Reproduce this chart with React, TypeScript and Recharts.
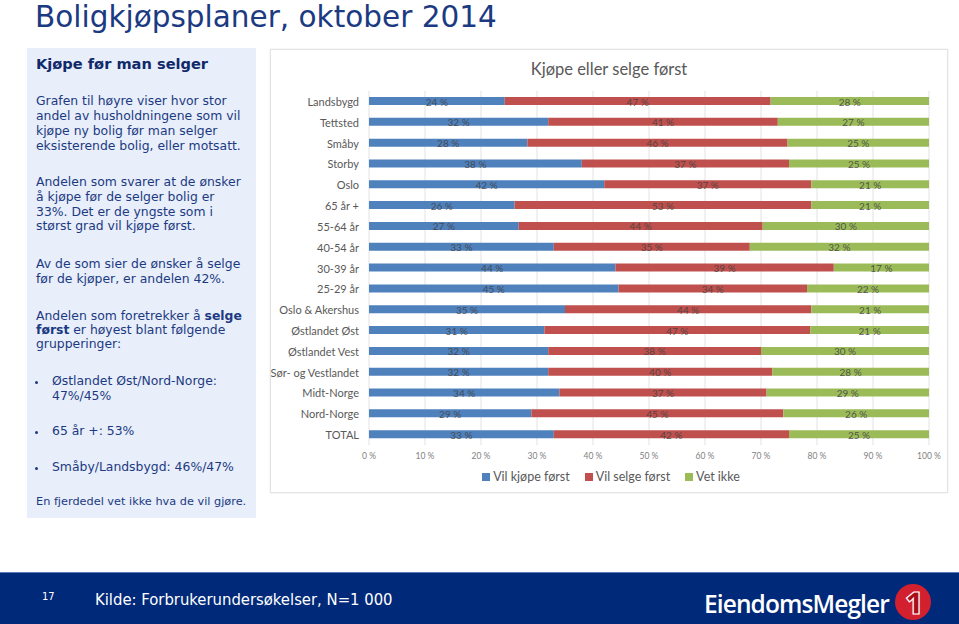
import { Bar, BarChart, CartesianGrid, LabelList, XAxis, YAxis } from 'recharts';

const categories = [
  'Landsbygd', 'Tettsted', 'Småby', 'Storby', 'Oslo', '65 år +', '55-64 år', '40-54 år',
  '30-39 år', '25-29 år', 'Oslo & Akershus', 'Østlandet Øst', 'Østlandet Vest',
  'Sør- og Vestlandet', 'Midt-Norge', 'Nord-Norge', 'TOTAL',
];
const kjopeForst = [24, 32, 28, 38, 42, 26, 27, 33, 44, 45, 35, 31, 32, 32, 34, 29, 33];
const selgeForst = [47, 41, 46, 37, 37, 53, 44, 35, 39, 34, 44, 47, 38, 40, 37, 45, 42];
const vetIkke = [28, 27, 25, 25, 21, 21, 30, 32, 17, 22, 21, 21, 30, 28, 29, 26, 25];
const xTicks = [0, 0.1, 0.2, 0.3, 0.4, 0.5, 0.6, 0.7, 0.8, 0.9, 1];

const seriesNames = ['Vil kjøpe først', 'Vil selge først', 'Vet ikke'];
const seriesColors = ['#4F81BD', '#C0504D', '#9BBB59'];

const data = categories.map((name, i) => ({
  name,
  kjope: kjopeForst[i],
  selge: selgeForst[i],
  vet: vetIkke[i],
}));

const navy = '#1b3a82';
const textFont = '"DejaVu Sans", Verdana, sans-serif';
const chartFont = 'Lato, "Open Sans", sans-serif';

const makeLabel = (values: number[]) => (props: any) => {
  const { x, y, width, height, index } = props;
  return (
    <text
      x={Number(x) + Number(width) / 2}
      y={Number(y) + Number(height) / 2 + 0.5}
      textAnchor="middle"
      dominantBaseline="central"
      fontSize={10}
      fontFamily={chartFont}
      fill="#404040"
      fillOpacity={0.85}
    >
      {values[index]} %
    </text>
  );
};

// plain svg text so long category names stay on one line
const CategoryTick = (props: any) => {
  const { x, y, payload } = props;
  return (
    <text x={x} y={y} textAnchor="end" dominantBaseline="central" fontSize={11} fontFamily={chartFont} fill="#595959">
      {payload.value}
    </text>
  );
};

const paraLines: { t: React.ReactNode; y: number; x?: number; size?: number }[] = [
  { t: 'Grafen til høyre viser hvor stor', y: 102 },
  { t: 'andel av husholdningene som vil', y: 117 },
  { t: 'kjøpe ny bolig før man selger', y: 132 },
  { t: 'eksisterende bolig, eller motsatt.', y: 147 },
  { t: 'Andelen som svarer at de ønsker', y: 183 },
  { t: 'å kjøpe før de selger bolig er', y: 198 },
  { t: '33%. Det er de yngste som i', y: 213 },
  { t: 'størst grad vil kjøpe først.', y: 227 },
  { t: 'Av de som sier de ønsker å selge', y: 265 },
  { t: 'før de kjøper, er andelen 42%.', y: 280 },
  { t: <>Andelen som foretrekker å <b>selge</b></>, y: 317 },
  { t: <><b>først</b> er høyest blant følgende</>, y: 331 },
  { t: 'grupperinger:', y: 345 },
  { t: 'Østlandet Øst/Nord-Norge:', y: 382, x: 52 },
  { t: '47%/45%', y: 397, x: 52 },
  { t: '65 år +: 53%', y: 432, x: 52 },
  { t: 'Småby/Landsbygd: 46%/47%', y: 468, x: 52 },
  { t: 'En fjerdedel vet ikke hva de vil gjøre.', y: 503, size: 11.3 },
];
const bulletYs = [382, 432, 468];

export default function App() {
  return (
    <div style={{ position: 'absolute', left: 0, top: 0, width: 959, height: 624, background: '#fff', overflow: 'hidden' }}>
      <div style={{ position: 'absolute', left: 35, top: 0, fontFamily: textFont, fontSize: 29.5, lineHeight: '34px', color: navy, whiteSpace: 'nowrap' }}>
        Boligkjøpsplaner, oktober 2014
      </div>

      {/* left panel */}
      <div style={{ position: 'absolute', left: 27, top: 48, width: 229, height: 470, background: '#E8EEFA' }} />
      <div style={{ position: 'absolute', left: 36, top: 55, fontFamily: textFont, fontWeight: 'bold', fontSize: 14.6, lineHeight: '18px', color: '#10296a', whiteSpace: 'nowrap' }}>
        Kjøpe før man selger
      </div>
      {paraLines.map((l, i) => (
        <div key={i} style={{ position: 'absolute', left: l.x ?? 36, top: l.y - 6.9, fontFamily: textFont, fontSize: l.size ?? 12.4, lineHeight: '12px', color: navy, whiteSpace: 'nowrap' }}>
          {l.t}
        </div>
      ))}
      {bulletYs.map((y) => (
        <div key={y} style={{ position: 'absolute', left: 35, top: y - 1.5, width: 3, height: 3, background: navy, borderRadius: 2 }} />
      ))}

      {/* chart box */}
      <div style={{ position: 'absolute', left: 270, top: 49, width: 676, height: 442, border: '1px solid #e3e3e3', boxShadow: '0 0 2px #e6e6e6', background: '#fff' }} />
      <div style={{ position: 'absolute', left: 270, top: 58, width: 678, textAlign: 'center', fontFamily: chartFont, fontSize: 16.5, lineHeight: '22px', color: '#595959' }}>
        Kjøpe eller selge først
      </div>
      <div style={{ position: 'absolute', left: 270, top: 49 }}>
        <BarChart
          width={678}
          height={444}
          data={data}
          layout="vertical"
          stackOffset="expand"
          barSize={8}
          margin={{ top: 42, right: 19, left: 0, bottom: 18 }}
        >
          <CartesianGrid horizontal={false} stroke="#e2e2e2" />
          <XAxis
            type="number"
            domain={[0, 1]}
            ticks={xTicks}
            tickFormatter={(v) => `${Math.round(v * 100)} %`}
            tick={{ fontSize: 8.5, fill: '#7f7f7f', fontFamily: chartFont }}
            axisLine={false}
            tickLine={false}
            height={30}
          />
          <YAxis
            type="category"
            dataKey="name"
            width={99}
            tick={<CategoryTick />}
            axisLine={false}
            tickLine={false}
            tickMargin={4}
            interval={0}
          />
          <Bar dataKey="kjope" stackId="a" fill={seriesColors[0]} isAnimationActive={false}>
            <LabelList dataKey="kjope" content={makeLabel(kjopeForst)} />
          </Bar>
          <Bar dataKey="selge" stackId="a" fill={seriesColors[1]} isAnimationActive={false}>
            <LabelList dataKey="selge" content={makeLabel(selgeForst)} />
          </Bar>
          <Bar dataKey="vet" stackId="a" fill={seriesColors[2]} isAnimationActive={false}>
            <LabelList dataKey="vet" content={makeLabel(vetIkke)} />
          </Bar>
        </BarChart>
      </div>
      <div style={{ position: 'absolute', left: 270, top: 469, width: 682, display: 'flex', justifyContent: 'center', gap: 15, fontFamily: chartFont, fontSize: 12.5, lineHeight: '16px', color: '#595959' }}>
        {seriesNames.map((n, i) => (
          <div key={n} style={{ display: 'flex', alignItems: 'center', gap: 3 }}>
            <div style={{ width: 8, height: 8, background: seriesColors[i] }} />
            <span>{n}</span>
          </div>
        ))}
      </div>

      {/* footer */}
      <div style={{ position: 'absolute', left: 0, top: 572, width: 959, height: 52, background: '#00297A', borderTop: '1px solid #5a7bb8' }} />
      <div style={{ position: 'absolute', left: 42, top: 590, fontFamily: '"DejaVu Sans Condensed", "DejaVu Sans", sans-serif', fontSize: 11, color: '#fff' }}>17</div>
      <div style={{ position: 'absolute', left: 95, top: 589, fontFamily: '"DejaVu Sans Condensed", "DejaVu Sans", sans-serif', fontSize: 16.5, lineHeight: '22px', color: '#fff', whiteSpace: 'nowrap' }}>
        Kilde: Forbrukerundersøkelser, N=1 000
      </div>
      <div style={{ position: 'absolute', left: 704, top: 588, fontFamily: '"Open Sans", sans-serif', fontWeight: 600, fontSize: 24.5, lineHeight: '32px', letterSpacing: -0.9, color: '#fff', whiteSpace: 'nowrap' }}>
        EiendomsMegler
      </div>
      <svg style={{ position: 'absolute', left: 893, top: 583 }} width={40} height={40}>
        <circle cx={20} cy={19} r={18} fill="#d3202e" />
        <text x={21} y={31} textAnchor="middle" fontFamily="'Open Sans', sans-serif" fontWeight={800} fontSize={30} fill="#a80f1a" stroke="#fff" strokeWidth={1.2}>1</text>
      </svg>
    </div>
  );
}
